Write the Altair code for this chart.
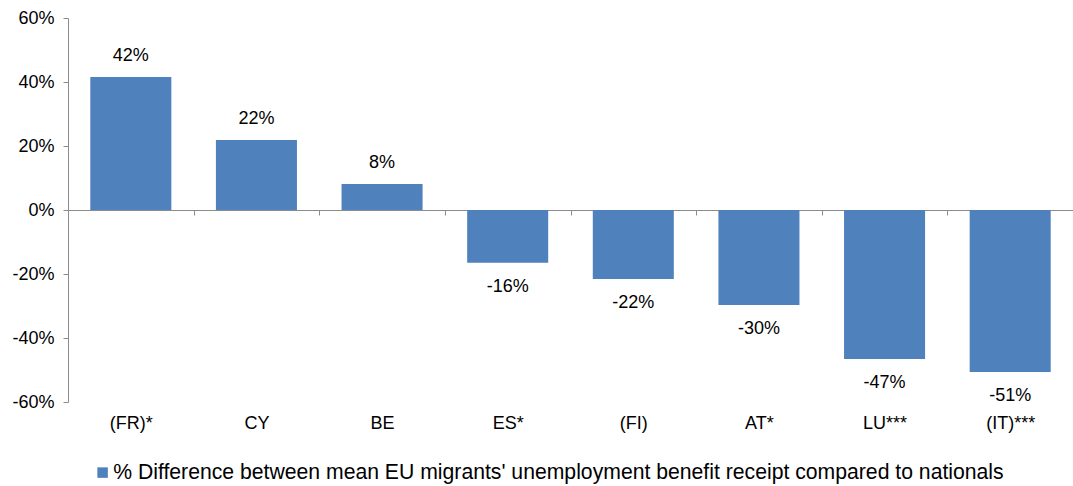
import altair as alt
import pandas as pd

categories = ["(FR)*", "CY", "BE", "ES*", "(FI)", "AT*", "LU***", "(IT)***"]
values = [0.416, 0.219, 0.081, -0.165, -0.216, -0.297, -0.466, -0.506]
value_labels = ["42%", "22%", "8%", "-16%", "-22%", "-30%", "-47%", "-51%"]
series_name = "% Difference between mean EU migrants' unemployment benefit receipt compared to nationals"
y_ticks = [-0.6, -0.4, -0.2, 0.0, 0.2, 0.4, 0.6]

df = pd.DataFrame({
    "cat": categories,
    "value": values,
    "label": value_labels,
    "series": [series_name] * len(categories),
})

FONT = "Liberation Sans"
GRAY = "#8c8c8c"
BLUE = "#4F81BD"
TICK_FS = 18
LEG_FS = 21.2

W, H = 1005, 384

x_enc = alt.X(
    "cat:N",
    sort=categories,
    scale=alt.Scale(paddingInner=0, paddingOuter=0),
    axis=alt.Axis(
        title=None,
        orient="bottom",
        offset=-192,
        domainColor=GRAY,
        tickColor=GRAY,
        tickSize=5,
        tickBand="extent",
        labelAngle=0,
        labelPadding=199,
        labelFont=FONT,
        labelFontSize=TICK_FS,
        labelColor="#000000",
    ),
)

y_scale = alt.Scale(domain=[-0.6, 0.6], nice=False, zero=False)

bars = alt.Chart(df).mark_bar(color=BLUE, width=alt.RelativeBandSize(0.645)).encode(
    x=x_enc,
    y=alt.Y(
        "value:Q",
        scale=y_scale,
        axis=alt.Axis(
            title=None,
            values=y_ticks,
            labelExpr="round(datum.value*100) + '%'",
            grid=False,
            domainColor=GRAY,
            tickColor=GRAY,
            tickSize=5,
            labelPadding=9,
            labelFont=FONT,
            labelFontSize=TICK_FS,
            labelColor="#000000",
        ),
    ),
    color=alt.Color(
        "series:N",
        scale=alt.Scale(range=[BLUE]),
        legend=alt.Legend(
            title=None,
            orient="none",
            legendX=24,
            legendY=462 - 18,
            symbolType="square",
            symbolSize=110,
            symbolStrokeWidth=0,
            labelFont=FONT,
            labelFontSize=LEG_FS,
            labelColor="#000000",
            labelLimit=0,
            labelOffset=0,
        ),
    ),
)

pos_text = alt.Chart(df).transform_filter("datum.value >= 0").mark_text(
    baseline="bottom", dy=-12, font=FONT, fontSize=TICK_FS, color="#000000"
).encode(x=alt.X("cat:N", sort=categories), y=alt.Y("value:Q", scale=y_scale), text="label:N")

neg_text = alt.Chart(df).transform_filter("datum.value < 0").mark_text(
    baseline="top", dy=15, font=FONT, fontSize=TICK_FS, color="#000000"
).encode(x=alt.X("cat:N", sort=categories), y=alt.Y("value:Q", scale=y_scale), text="label:N")

chart = alt.layer(bars, pos_text, neg_text).properties(
    width=W,
    height=H,
    autosize=alt.AutoSizeParams(type="none"),
    padding={"left": 68, "top": 18, "right": 0, "bottom": 84},
    background="white",
).configure_view(stroke=None)

chart.save("out.html", embed_options={"renderer": "svg", "actions": False})
